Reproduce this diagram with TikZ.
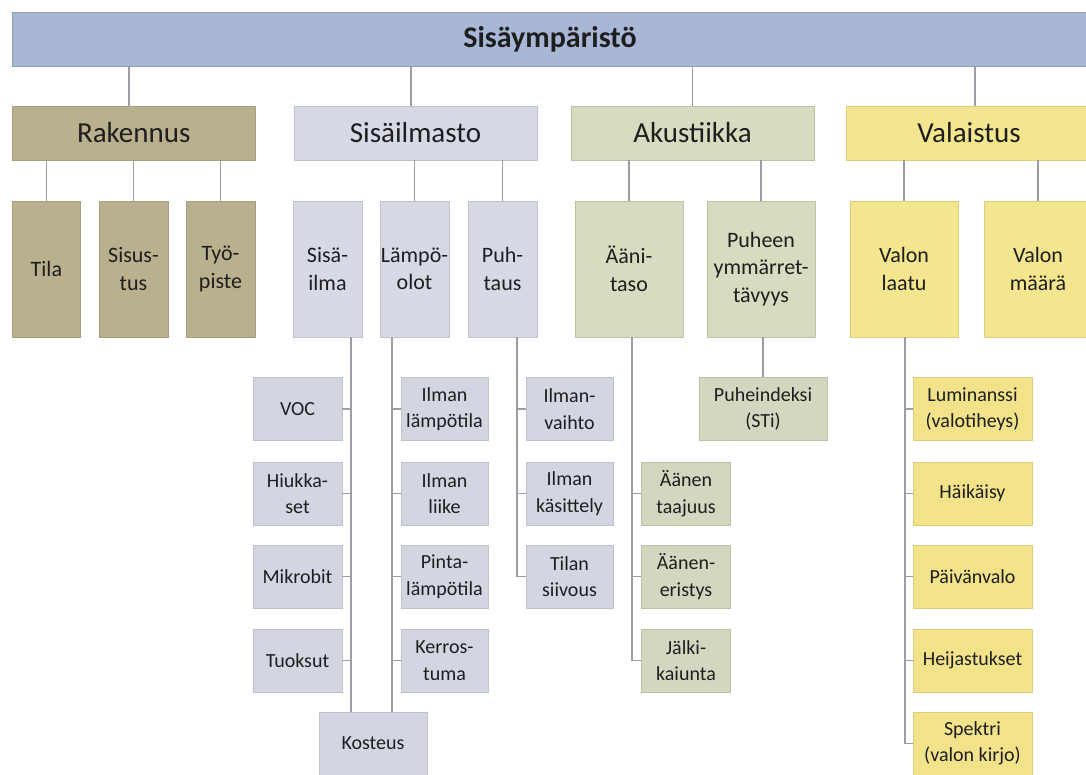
\documentclass[tikz,border=0pt]{standalone}
\usepackage{fontspec}
\setmainfont{Carlito}
\usetikzlibrary{positioning}

\definecolor{topfill}{HTML}{A9B7D7}
\definecolor{rakfill}{HTML}{B9B18D}
\definecolor{rakedge}{HTML}{A69E7D}
\definecolor{sisfill}{HTML}{D7DAE5}
\definecolor{sisleaf}{HTML}{D3D6E0}
\definecolor{sisedge}{HTML}{BFC2CD}
\definecolor{akufill}{HTML}{D9DBC0}
\definecolor{akuleaf}{HTML}{D4D6C0}
\definecolor{akuedge}{HTML}{BEC0A8}
\definecolor{valfill}{HTML}{F4E68E}
\definecolor{valleaf}{HTML}{F2E38A}
\definecolor{valedge}{HTML}{DCCD78}
\definecolor{linkgray}{HTML}{9C9CA4}
\definecolor{ink}{HTML}{1E1E1E}

\tikzset{
  box/.style={rectangle, inner sep=0pt, align=center, text=ink, line width=0.8pt},
  topbar/.style={box, fill=topfill, draw=topfill!85!black, minimum width=1080, minimum height=54,
                 font=\fontsize{30}{34}\selectfont\bfseries},
  header/.style={box, minimum height=54, font=\fontsize{29}{34}\selectfont},
  mid/.style={box, minimum width=69, minimum height=136, font=\fontsize{22}{27.5}\selectfont},
  leaf/.style={box, minimum height=63, font=\fontsize{20}{26.5}\selectfont},
  rak/.style={fill=rakfill, draw=rakedge},
  sis/.style={fill=sisfill, draw=sisedge},
  sisl/.style={fill=sisleaf, draw=sisedge},
  aku/.style={fill=akufill, draw=akuedge},
  akul/.style={fill=akuleaf, draw=akuedge},
  val/.style={fill=valfill, draw=valedge},
  vall/.style={fill=valleaf, draw=valedge},
  link/.style={draw=linkgray, line width=1.3pt}
}

\begin{document}
\begin{tikzpicture}[x=1pt, y=-1pt]
\clip (0,0) rectangle (1086,774);
\fill[white] (0,0) rectangle (1086,774);

% top bar
\node[topbar] (top) at (552,39) {};
\node[font=\fontsize{30}{34}\selectfont\bfseries, text=ink] (title) at (550,39) {Sisäympäristö};

% main headers
\node[header, rak, minimum width=243] (rakennus) at (133.75,133) {Rakennus};
\node[header, sis, minimum width=243] (sisailmasto) at (415.5,133) {Sisäilmasto};
\node[header, aku, minimum width=243] (akustiikka) at (692.5,133) {Akustiikka};
\node[header, val, minimum width=246] (valaistus) at (969,133) {Valaistus};

% second level
\node[mid, rak, minimum width=68] (tila) at (46.4,269) {Tila};
\node[mid, rak] (sisustus) at (133.5,269) {Sisus-\\tus};
\node[mid, rak] (tyopiste) at (220.5,269) {Työ-\\piste};
\node[mid, sis] (sisailma) at (327.5,269) {Sisä-\\ilma};
\node[mid, sis] (lampoolot) at (414.5,269) {Lämpö-\\olot};
\node[mid, sis] (puhtaus) at (502.5,269) {Puh-\\taus};
\node[mid, aku, minimum width=108] (aanitaso) at (629,269) {Ääni-\\taso};
\node[mid, aku, minimum width=108] (puheen) at (761,269) {Puheen\\ymmärret-\\tävyys};
\node[mid, val, minimum width=108] (valonlaatu) at (904,269) {Valon\\laatu};
\node[mid, val, minimum width=108] (valonmaara) at (1038,269) {Valon\\määrä};

% Sisäilma leaves
\node[leaf, sisl, minimum width=89] (voc) at (297.5,409) {VOC};
\node[leaf, sisl, minimum width=89] (hiukkaset) at (297.5,493.5) {Hiukka-\\set};
\node[leaf, sisl, minimum width=89] (mikrobit) at (297.5,576.5) {Mikrobit};
\node[leaf, sisl, minimum width=89] (tuoksut) at (297.5,660.5) {Tuoksut};
\node[leaf, sisl, minimum width=108] (kosteus) at (373,743.5) {Kosteus};

% Lämpöolot leaves
\node[leaf, sisl, minimum width=87] (ilmanlampo) at (444.5,409) {Ilman\\lämpötila};
\node[leaf, sisl, minimum width=87] (ilmanliike) at (444.5,493.5) {Ilman\\liike};
\node[leaf, sisl, minimum width=87] (pintalampo) at (444.5,576.5) {Pinta-\\lämpötila};
\node[leaf, sisl, minimum width=87] (kerrostuma) at (444.5,660.5) {Kerros-\\tuma};

% Puhtaus leaves
\node[leaf, sisl, minimum width=87] (ilmanvaihto) at (569.5,409) {Ilman-\\vaihto};
\node[leaf, sisl, minimum width=87] (ilmankasittely) at (569.5,493.5) {Ilman\\käsittely};
\node[leaf, sisl, minimum width=87] (tilansiivous) at (569.5,576.5) {Tilan\\siivous};

% Akustiikka leaves
\node[leaf, akul, minimum width=89] (aanentaajuus) at (686,493.5) {Äänen\\taajuus};
\node[leaf, akul, minimum width=89] (aaneneristys) at (686,576.5) {Äänen-\\eristys};
\node[leaf, akul, minimum width=89] (jalkikaiunta) at (686,660.5) {Jälki-\\kaiunta};
\node[leaf, akul, minimum width=128] (puheindeksi) at (763,409) {Puheindeksi\\(STi)};

% Valaistus leaves
\node[leaf, vall, minimum width=119] (luminanssi) at (972.5,409) {Luminanssi\\(valotiheys)};
\node[leaf, vall, minimum width=119] (haikaisy) at (972.5,493.5) {Häikäisy};
\node[leaf, vall, minimum width=119] (paivanvalo) at (972.5,576.5) {Päivänvalo};
\node[leaf, vall, minimum width=119] (heijastukset) at (972.5,660.5) {Heijastukset};
\node[leaf, vall, minimum width=119] (spektri) at (972.5,743.5) {Spektri\\(valon kirjo)};

% top bar to headers
\draw[link] ([xshift=-4.75]rakennus.north) -- ([xshift=-4.75]rakennus.north |- top.south);
\draw[link] ([xshift=-4.5]sisailmasto.north) -- ([xshift=-4.5]sisailmasto.north |- top.south);
\draw[link] (akustiikka.north) -- (akustiikka.north |- top.south);
\draw[link] ([xshift=6]valaistus.north) -- ([xshift=6]valaistus.north |- top.south);

% headers to second level
\foreach \c/\p in {tila/rakennus, sisustus/rakennus, tyopiste/rakennus,
                   lampoolot/sisailmasto, puhtaus/sisailmasto,
                   aanitaso/akustiikka, puheen/akustiikka,
                   valonlaatu/valaistus, valonmaara/valaistus}
  \draw[link] (\c.north) -- (\c.north |- \p.south);

% trunks below the second level
\coordinate (siT) at ([xshift=23.5]sisailma.south);
\coordinate (loT) at ([xshift=-22.5]lampoolot.south);
\coordinate (puT) at ([xshift=14.5]puhtaus.south);
\coordinate (aaT) at ([xshift=3]aanitaso.south);
\coordinate (vlT) at ([xshift=1]valonlaatu.south);

\draw[link] (siT) -- (siT |- kosteus.north);
\draw[link] (loT) -- (loT |- kosteus.north);
\foreach \n in {voc, hiukkaset, mikrobit, tuoksut}
  \draw[link] (\n.east) -- (\n.east -| siT);
\foreach \n in {ilmanlampo, ilmanliike, pintalampo, kerrostuma}
  \draw[link] (\n.west) -- (\n.west -| loT);

\draw[link] (puT) |- (tilansiivous.west);
\foreach \n in {ilmanvaihto, ilmankasittely}
  \draw[link] (\n.west) -- (\n.west -| puT);

\draw[link] (aaT) |- (jalkikaiunta.west);
\foreach \n in {aanentaajuus, aaneneristys}
  \draw[link] (\n.west) -- (\n.west -| aaT);

\draw[link] (puheindeksi.north) -- (puheindeksi.north |- puheen.south);

\draw[link] (vlT) |- (spektri.west);
\foreach \n in {luminanssi, haikaisy, paivanvalo, heijastukset}
  \draw[link] (\n.west) -- (\n.west -| vlT);
\end{tikzpicture}
\end{document}
